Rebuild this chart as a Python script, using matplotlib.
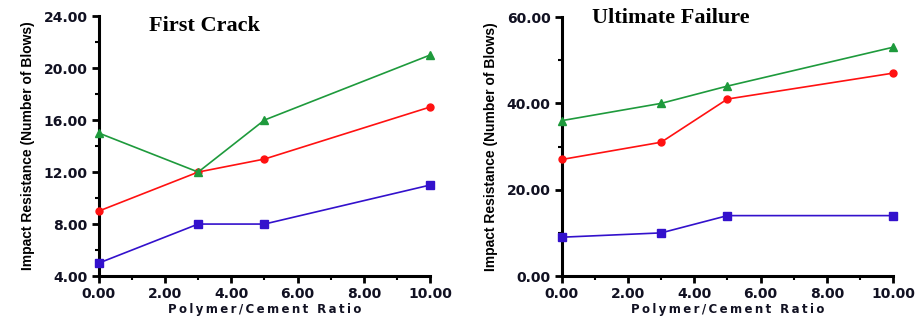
import matplotlib
matplotlib.use("Agg")
import matplotlib.pyplot as plt
from matplotlib.ticker import MultipleLocator, FormatStrFormatter

# polymer/cement ratio
ratio = [0, 3, 5, 10]

# first crack (number of blows)
fc_blue = [5, 8, 8, 11]
fc_red = [9, 12, 13, 17]
fc_green = [15, 12, 16, 21]

# ultimate failure (number of blows)
uf_blue = [9, 10, 14, 14]
uf_red = [27, 31, 41, 47]
uf_green = [36, 40, 44, 53]

titles = ["First Crack", "Ultimate Failure"]
xlabel = "\u2009".join("Polymer/Cement Ratio")
ylabel = "Impact Resistance (Number of Blows)"

BLUE = "#3311cc"
RED = "#ff1111"
GREEN = "#1e9a3c"

fig = plt.figure(figsize=(9.15, 3.21), dpi=100)
ax1 = fig.add_axes([0.108, 0.140, 0.362, 0.810])
ax2 = fig.add_axes([0.614, 0.140, 0.362, 0.807])


def styleAxis(ax, ylim, ymajor, yminor, title, tx, ty):
    ax.set_xlim(0, 10)
    ax.set_ylim(*ylim)
    for s in ["top", "right"]:
        ax.spines[s].set_visible(False)
    for s in ["left", "bottom"]:
        ax.spines[s].set_linewidth(2.2)
        ax.spines[s].set_color("black")
    ax.xaxis.set_major_locator(MultipleLocator(2))
    ax.xaxis.set_minor_locator(MultipleLocator(1))
    ax.yaxis.set_major_locator(MultipleLocator(ymajor))
    ax.yaxis.set_minor_locator(MultipleLocator(yminor))
    ax.xaxis.set_major_formatter(FormatStrFormatter("%.2f"))
    ax.yaxis.set_major_formatter(FormatStrFormatter("%.2f"))
    ax.tick_params(which="major", direction="out", length=5, width=2, pad=3)
    ax.tick_params(which="minor", direction="out", length=3, width=1.5)
    for lab in ax.get_xticklabels() + ax.get_yticklabels():
        lab.set_fontweight("bold")
        lab.set_fontsize(10)
        lab.set_family("DejaVu Sans")
        lab.set_color("#111122")
    ax.set_xlabel(xlabel, fontsize=8.5, fontweight="bold", labelpad=1,
                  family="DejaVu Sans", color="#111122")
    ax.set_ylabel(ylabel, fontsize=10, fontweight="bold",
                  family=["Liberation Sans Narrow", "Liberation Sans"], labelpad=6)
    ax.text(tx, ty, title, transform=ax.transAxes,
            ha="center", va="top", fontsize=16, fontweight="bold",
            family=["Liberation Serif", "DejaVu Serif"])


def drawSeries(ax, blue, red, green):
    ax.plot(ratio, blue, color=BLUE, marker="s", markersize=5.5, lw=1.2, clip_on=False, zorder=3)
    ax.plot(ratio, red, color=RED, marker="o", markersize=5, lw=1.2, clip_on=False, zorder=3)
    ax.plot(ratio, green, color=GREEN, marker="^", markersize=5.5, lw=1.2, clip_on=False, zorder=3)


drawSeries(ax1, fc_blue, fc_red, fc_green)
styleAxis(ax1, (4, 24), 4, 2, titles[0], 0.32, 1.0)

drawSeries(ax2, uf_blue, uf_red, uf_green)
styleAxis(ax2, (0, 60), 20, 10, titles[1], 0.33, 1.035)

fig.savefig("out.png", dpi=100)
